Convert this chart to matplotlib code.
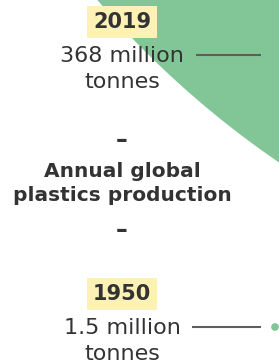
import matplotlib.pyplot as plt
from matplotlib.patches import Circle

years = ["2019", "1950"]
production_mt = [368, 1.5]
amount_labels = ["368 million\ntonnes", "1.5 million\ntonnes"]
title_lines = ["Annual global", "plastics production"]

GREEN = "#82c596"
YELLOW = "#fdf1b5"
INK = "#333333"
LEADER = "#5e5e5e"

fig = plt.figure(figsize=(2.79, 3.63), dpi=100)
ax = fig.add_axes([0, 0, 1, 1])
ax.set_xlim(0, 279)
ax.set_ylim(363, 0)
ax.set_aspect('equal')
ax.axis('off')

# circle radius grows linearly with tonnage (pixels per million tonnes)
px_per_mt = 2.56
centers = [(811, -615), (275, 327)]
for (cx, cy), v in zip(centers, production_mt):
    ax.add_patch(Circle((cx, cy), v * px_per_mt, color=GREEN, lw=0, zorder=1))

text_x = 122
row_tops = [6, 278]
value_texts = []
for year, label, top in zip(years, amount_labels, row_tops):
    ax.text(text_x, top + 16, year, ha='center', va='center', fontsize=15,
            fontweight='bold', color=INK, zorder=3,
            bbox=dict(boxstyle='square,pad=0.3', fc=YELLOW, ec='none'))
    first, second = label.split("\n")
    t = ax.text(text_x, top + 56, first, ha='center', va='baseline',
                fontsize=16, color=INK, zorder=3)
    ax.text(text_x, top + 82, second, ha='center', va='baseline',
            fontsize=16, color=INK, zorder=3)
    value_texts.append((t, top))

# leader lines start just after the first label line
fig.canvas.draw()
inv = ax.transData.inverted()
for t, top in value_texts:
    bb = t.get_window_extent()
    x_end = inv.transform((bb.x1, bb.y0))[0]
    ax.plot([x_end + 12, 261], [top + 49, top + 49], color=LEADER, lw=1.5,
            solid_capstyle='butt', zorder=2)

# title block with dashes
for y in [141, 231]:
    ax.text(text_x, y + 6, "–", ha='center', va='baseline', fontsize=17,
            fontweight='bold', color=INK)
for line, y in zip(title_lines, [177, 201]):
    ax.text(text_x, y, line, ha='center', va='baseline', fontsize=14.5,
            fontweight='bold', color=INK)

fig.savefig("out.png", dpi=100, facecolor='white')
